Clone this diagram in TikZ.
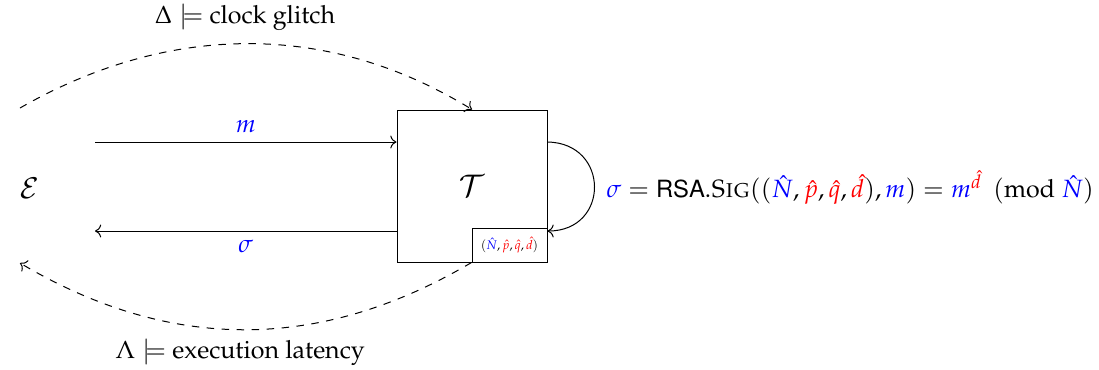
\documentclass[tikz,border=0pt]{standalone}
\usepackage[T1]{fontenc}
\usepackage{mathpazo}
\usepackage[scaled=0.95]{helvet}
\usetikzlibrary{arrows.meta}
\newcommand{\hN}{\textcolor{blue}{\hat{N}}}
\newcommand{\hp}{\textcolor{red}{\hat{p}}}
\newcommand{\hq}{\textcolor{red}{\hat{q}}}
\newcommand{\hd}{\textcolor{red}{\hat{d}}}
\tikzset{
  msg/.style={->},
  side/.style={->,dashed},
  lbl/.style={text=blue},
  device/.style={draw,inner sep=0pt,minimum width=60pt,minimum height=60.8pt},
  keybox/.style={draw,fill=white,inner sep=0pt,minimum width=30pt,minimum height=13.6pt,font=\tiny},
}
\begin{document}
\begin{tikzpicture}[x=0.4pt,y=-0.4pt]
\useasboundingbox (0,0) rectangle (1099,369);

% entities
\node[scale=1.15] (E) at (30,188) {$\mathcal{E}$};
\node[device] (T) at (472,186) {\large$\mathcal{T}$};
\node[keybox] (K) at (509.5,245) {$(\hN,\hp,\hq,\hd)$};

% message and signature
\coordinate (mIn) at (95,142);
\coordinate (mOut) at (T.west |- mIn);
\coordinate (sOut) at (95,231);
\coordinate (sIn) at (T.west |- sOut);
\draw[msg] (mIn) -- node[lbl,above] {$m$} (mOut);
\draw[msg] (sIn) -- node[lbl,below] {$\sigma$} (sOut);

% internal signing loop
\coordinate (l1) at (T.east |- mIn);
\coordinate (l2) at (T.east |- sOut);
\draw[->] (l1) .. controls (610,143) and (610,231) .. (l2);
\node[anchor=west,inner sep=0pt] (eq) at (606,188)
  {$\textcolor{blue}{\sigma} = \textsf{RSA}.\textsc{Sig}((\hN,\hp,\hq,\hd),\textcolor{blue}{m}) = \textcolor{blue}{m}^{\hd}\;\,(\mathrm{mod}\ \hN)$};

% side channels
\coordinate (gStart) at (20,108);
\coordinate (lEnd) at (20,263);
\draw[side] (gStart) .. controls (170,22) and (330,22) .. (T.north);
\node (glitch) at (245,17) {$\Delta \models$ clock glitch};
\draw[side] (K.south west) .. controls (320,352) and (170,352) .. (lEnd);
\node (lat) at (240,352) {$\Lambda \models$ execution latency};
\end{tikzpicture}
\end{document}
